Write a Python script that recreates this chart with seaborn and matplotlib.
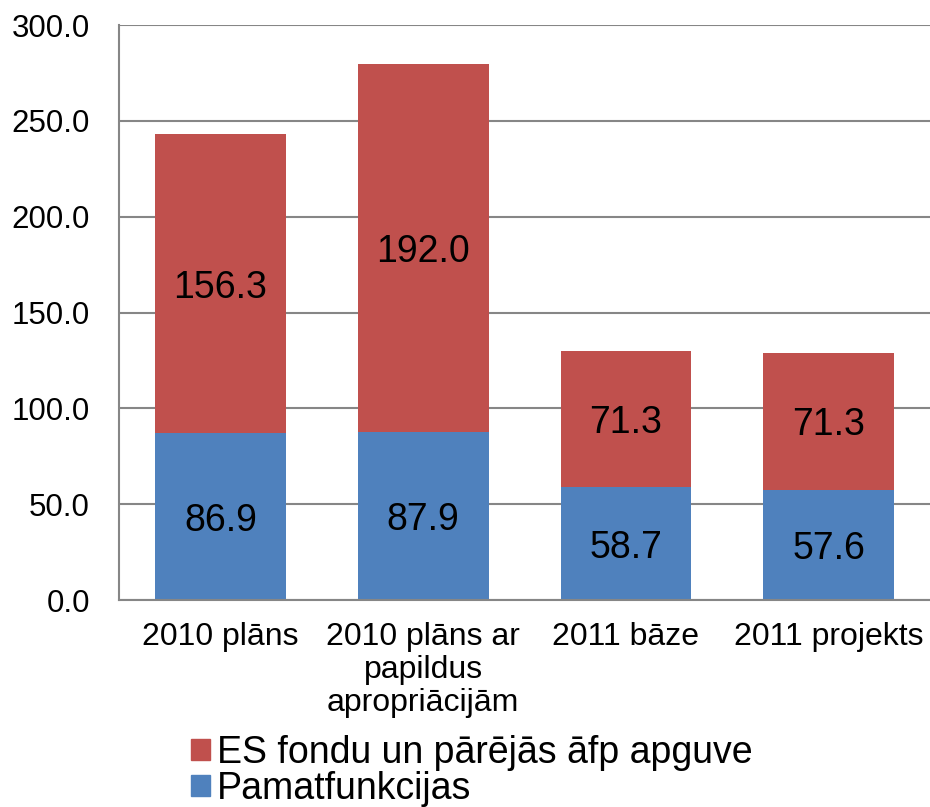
import numpy as np
import pandas as pd
import matplotlib
matplotlib.use("Agg")
import matplotlib.pyplot as plt
import seaborn as sns
from matplotlib.patches import Patch

# === Datos ===
categorias = ["2010 plāns", "2010 plāns ar\npapildus\napropriācijām", "2011 bāze", "2011 projekts"]
pamatfunkcijas = [86.9, 87.9, 58.7, 57.6]
es_fondi = [156.3, 192.0, 71.3, 71.3]
serie_nombres = ["ES fondu un pārējās āfp apguve", "Pamatfunkcijas"]
y_ticks = [0, 50, 100, 150, 200, 250, 300]

df = pd.DataFrame({
    "cat": categorias,
    "base": pamatfunkcijas,
    "es": es_fondi,
})
df["total"] = df["base"] + df["es"]

ROJO = "#C0504D"
AZUL = "#4F81BD"
GRIS = "#868686"

sns.set_style("white")
plt.rcParams["font.family"] = ["Liberation Sans", "DejaVu Sans"]
plt.rcParams["text.color"] = "black"
plt.rcParams["xtick.color"] = "black"
plt.rcParams["ytick.color"] = "black"

fig = plt.figure(figsize=(9.3, 8.07), dpi=100)
ax = fig.add_axes([0.128, 0.2565, 0.872, 0.7125])

# Barras apiladas: total (rojo) detrás, base (azul) delante
sns.barplot(data=df, x="cat", y="total", color=ROJO, saturation=1, width=0.645,
            linewidth=0, ax=ax)
sns.barplot(data=df, x="cat", y="base", color=AZUL, saturation=1, width=0.645,
            linewidth=0, ax=ax)

# Etiquetas centradas en cada segmento
for i, row in df.iterrows():
    ax.text(i, row["base"] / 2, f"{row['base']:.1f}", ha="center", va="center_baseline", fontsize=27)
    ax.text(i, row["base"] + row["es"] / 2, f"{row['es']:.1f}", ha="center", va="center_baseline", fontsize=27)

ax.set_xlim(-0.5, 3.5)
ax.set_ylim(0, 300)
ax.set_yticks(y_ticks)
ax.set_yticklabels([f"{v:.1f}" for v in y_ticks], fontsize=22.5)
ax.set_xticks(range(len(categorias)))
ax.set_xticklabels(categorias, fontsize=23, linespacing=1.12)
ax.set_xlabel("")
ax.set_ylabel("")
ax.tick_params(axis="y", length=0, pad=21)
ax.tick_params(axis="x", length=0, pad=16)

ax.yaxis.grid(True, color=GRIS, linewidth=1.5)
ax.set_axisbelow(True)
for lado in ["top", "right"]:
    ax.spines[lado].set_visible(False)
for lado in ["left", "bottom"]:
    ax.spines[lado].set_color(GRIS)
    ax.spines[lado].set_linewidth(1.5)

handles = [Patch(color=ROJO), Patch(color=AZUL)]
fig.legend(handles, serie_nombres, loc="upper left", bbox_to_anchor=(0.185, 0.113),
           frameon=False, fontsize=27, handlelength=0.5, handleheight=0.5,
           handletextpad=0.2, labelspacing=0.0, borderpad=0)

fig.savefig("out.png", dpi=100)
